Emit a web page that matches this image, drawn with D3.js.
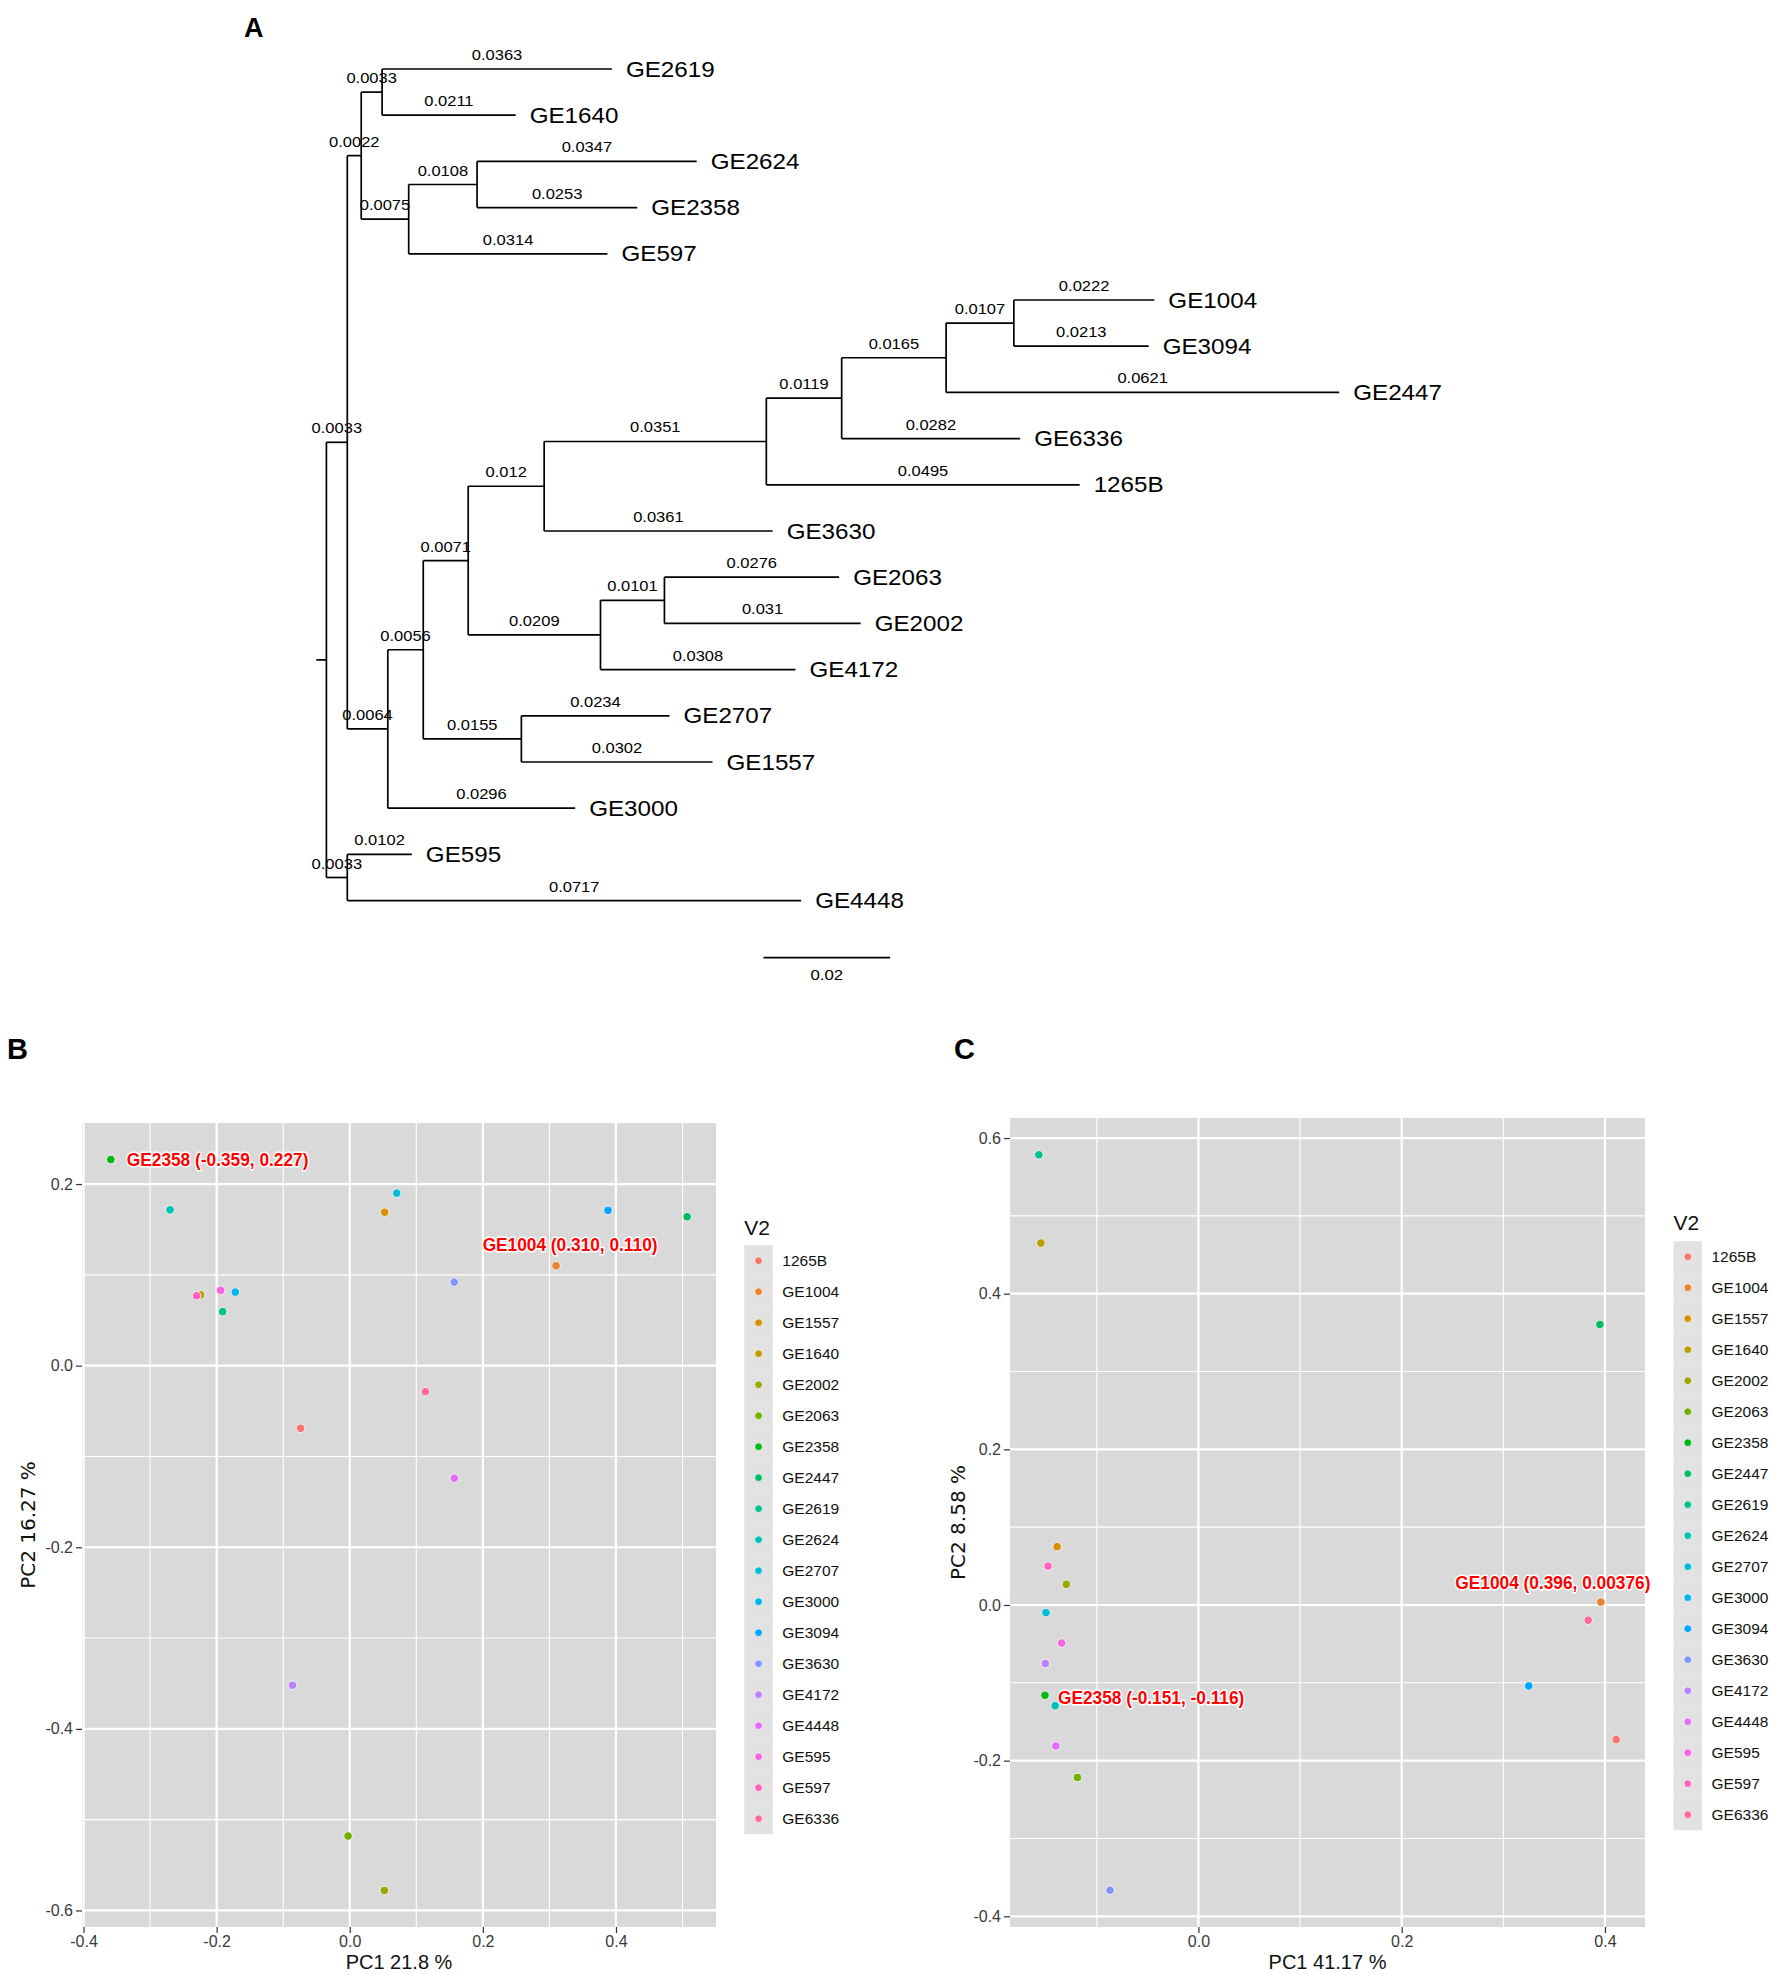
<!DOCTYPE html>
<html lang="en">
<head>
<meta charset="UTF-8">
<title>Phylogeny and PCA</title>
<script src="https://cdn.jsdelivr.net/npm/d3@7"></script>
<style>
  body { margin: 0; background: #fff; }
  svg { display: block; }
</style>
</head>
<body>
<div id="chart"></div>
<script>
// ---- data ----
// tree edges: [parent, child, branch length]; child order = drawing order
const treeEdges = [
  ["root", "n1", 0.0033], ["root", "n20", 0.0033],
  ["n1", "n2", 0.0022], ["n1", "n6", 0.0064],
  ["n2", "n3", 0.0033], ["n2", "n4", 0.0075],
  ["n3", "GE2619", 0.0363], ["n3", "GE1640", 0.0211],
  ["n4", "n5", 0.0108], ["n4", "GE597", 0.0314],
  ["n5", "GE2624", 0.0347], ["n5", "GE2358", 0.0253],
  ["n6", "n7", 0.0056], ["n6", "GE3000", 0.0296],
  ["n7", "n8", 0.0071], ["n7", "n16", 0.0155],
  ["n8", "n9", 0.012], ["n8", "n14", 0.0209],
  ["n9", "n10", 0.0351], ["n9", "GE3630", 0.0361],
  ["n10", "n11", 0.0119], ["n10", "1265B", 0.0495],
  ["n11", "n12", 0.0165], ["n11", "GE6336", 0.0282],
  ["n12", "n13", 0.0107], ["n12", "GE2447", 0.0621],
  ["n13", "GE1004", 0.0222], ["n13", "GE3094", 0.0213],
  ["n14", "n15", 0.0101], ["n14", "GE4172", 0.0308],
  ["n15", "GE2063", 0.0276], ["n15", "GE2002", 0.031],
  ["n16", "GE2707", 0.0234], ["n16", "GE1557", 0.0302],
  ["n20", "GE595", 0.0102], ["n20", "GE4448", 0.0717]
];
const rootEdge = 0.0016;
const scaleBarLength = 0.02;

// legend levels (V2)
const samples = ["1265B", "GE1004", "GE1557", "GE1640", "GE2002", "GE2063", "GE2358",
  "GE2447", "GE2619", "GE2624", "GE2707", "GE3000", "GE3094", "GE3630", "GE4172",
  "GE4448", "GE595", "GE597", "GE6336"];

// PCA panel B: [sample, PC1, PC2]
const pcaB = [
  ["1265B", -0.074, -0.069], ["GE1004", 0.310, 0.110], ["GE1557", 0.0525, 0.169],
  ["GE1640", -0.224, 0.078], ["GE2002", 0.052, -0.578], ["GE2063", -0.0025, -0.518],
  ["GE2358", -0.359, 0.227], ["GE2447", 0.507, 0.164], ["GE2619", -0.191, 0.0595],
  ["GE2624", -0.270, 0.1716], ["GE2707", 0.0706, 0.190], ["GE3000", -0.172, 0.081],
  ["GE3094", 0.388, 0.171], ["GE3630", 0.157, 0.092], ["GE4172", -0.086, -0.352],
  ["GE4448", 0.157, -0.124], ["GE595", -0.194, 0.083], ["GE597", -0.230, 0.077],
  ["GE6336", 0.1136, -0.0286]
];
// PCA panel C
const pcaC = [
  ["1265B", 0.411, -0.173], ["GE1004", 0.396, 0.00376], ["GE1557", -0.139, 0.075],
  ["GE1640", -0.155, 0.465], ["GE2002", -0.130, 0.0265], ["GE2063", -0.119, -0.2216],
  ["GE2358", -0.151, -0.116], ["GE2447", 0.395, 0.3605], ["GE2619", -0.157, 0.5785],
  ["GE2624", -0.141, -0.1295], ["GE2707", -0.150, -0.0098], ["GE3000", -0.1166, -0.1213],
  ["GE3094", 0.325, -0.104], ["GE3630", -0.087, -0.3665], ["GE4172", -0.1506, -0.0752],
  ["GE4448", -0.1403, -0.1812], ["GE595", -0.1346, -0.0489], ["GE597", -0.148, 0.050],
  ["GE6336", 0.3835, -0.0195]
];
const calloutsB = [["GE2358", "GE2358 (-0.359, 0.227)"], ["GE1004", "GE1004 (0.310, 0.110)"]];
const calloutsC = [["GE1004", "GE1004 (0.396, 0.00376)"], ["GE2358", "GE2358 (-0.151, -0.116)"]];

const bTicksX = [-0.4, -0.2, 0, 0.2, 0.4], bMinorX = [-0.3, -0.1, 0.1, 0.3, 0.5];
const bTicksY = [-0.6, -0.4, -0.2, 0, 0.2], bMinorY = [-0.5, -0.3, -0.1, 0.1];
const cTicksX = [0, 0.2, 0.4], cMinorX = [-0.1, 0.1, 0.3];
const cTicksY = [-0.4, -0.2, 0, 0.2, 0.4, 0.6], cMinorY = [-0.3, -0.1, 0.1, 0.3, 0.5];

// ---- colours: ggplot hue palette (polar LUV, c=100, l=65) ----
function hclLuv(h, c, l) {
  const hr = h * Math.PI / 180;
  const U = c * Math.cos(hr), V = c * Math.sin(hr);
  const Xn = 95.047, Yn = 100, Zn = 108.883;
  const Y = Yn * (l > 7.999592 ? Math.pow((l + 16) / 116, 3) : l / 903.3);
  const t = Xn + 15 * Yn + 3 * Zn;
  const u = U / (13 * l) + 4 * Xn / t, v = V / (13 * l) + 9 * Yn / t;
  const X = 9 * Y * u / (4 * v);
  const Z = -X / 3 - 5 * Y + 3 * Y / v;
  const lin = [3.240479 * X - 1.537150 * Y - 0.498535 * Z,
               -0.969256 * X + 1.875992 * Y + 0.041556 * Z,
               0.055648 * X - 0.204043 * Y + 1.057311 * Z].map(d => d / 100);
  const gam = d => d <= 0.0031308 ? 12.92 * d : 1.055 * Math.pow(d, 1 / 2.4) - 0.055;
  const [r, g, b] = lin.map(d => Math.max(0, Math.min(255, Math.round(255 * gam(d)))));
  return d3.rgb(r, g, b).formatHex();
}
const n = samples.length;
const hues = d3.range(n).map(i => 15 + i * (360 - 360 / n) / (n - 1));
const color = d3.scaleOrdinal(samples, hues.map(h => hclLuv(h, 100, 65)));

const W = 1772, H = 1975;
const svg = d3.select("#chart").append("svg")
  .attr("width", W).attr("height", H)
  .style("font-family", "'Liberation Sans', Arial, sans-serif");
svg.append("rect").attr("width", W).attr("height", H).attr("fill", "#fff");

// text with horizontal stretch
function sText(parent, x, y, str, sx, anchor) {
  const g = parent.append("g").attr("transform", `translate(${x},${y}) scale(${sx},1)`);
  return g.append("text").attr("text-anchor", anchor || "start").text(str);
}

// panel letters
svg.append("text").attr("x", 244).attr("y", 37).attr("font-size", 27).attr("font-weight", "bold").text("A");
svg.append("text").attr("x", 7).attr("y", 1059).attr("font-size", 29).attr("font-weight", "bold").text("B");
svg.append("text").attr("x", 954).attr("y", 1059).attr("font-size", 29).attr("font-weight", "bold").text("C");

// ---- panel A: tree ----
const rows = [{ id: "root", parentId: null, len: 0 }]
  .concat(treeEdges.map(e => ({ id: e[1], parentId: e[0], len: e[2] })));
const root = d3.stratify().id(d => d.id).parentId(d => d.parentId)(rows);
root.eachBefore(d => { d.dist = d.parent ? d.parent.dist + d.data.len : 0; });
const leaves = root.leaves();
const tx = d3.scaleLinear().domain([0, 0.1]).range([326.4, 326.4 + 633]);
const ty = d3.scaleLinear().domain([0, leaves.length - 1]).range([69, 900.6]);
leaves.forEach((d, i) => { d.py = ty(i); });
root.eachAfter(d => {
  if (d.children) d.py = (d.children[0].py + d.children[d.children.length - 1].py) / 2;
});

const gTree = svg.append("g").attr("stroke", "#000").attr("stroke-width", 1.7).attr("fill", "none");
root.descendants().forEach(d => {
  if (d.parent) {
    gTree.append("line").attr("x1", tx(d.parent.dist)).attr("x2", tx(d.dist))
      .attr("y1", d.py).attr("y2", d.py);
  }
  if (d.children) {
    gTree.append("line").attr("x1", tx(d.dist)).attr("x2", tx(d.dist))
      .attr("y1", d.children[0].py).attr("y2", d.children[d.children.length - 1].py);
  }
});
gTree.append("line").attr("x1", tx(-rootEdge)).attr("x2", tx(0))
  .attr("y1", root.py).attr("y2", root.py);

const gTreeText = svg.append("g").attr("fill", "#000");
root.descendants().forEach(d => {
  if (!d.parent) return;
  const mx = (tx(d.parent.dist) + tx(d.dist)) / 2;
  sText(gTreeText, mx, d.py - 9, String(d.data.len), 1.18, "middle").attr("font-size", 14);
});
leaves.forEach(d => {
  sText(gTreeText, tx(d.dist) + 14, d.py, d.id, 1.1, "start")
    .attr("font-size", 22).attr("dominant-baseline", "central");
});

// scale bar
const sbX = 763.5, sbY = 957.6;
gTree.append("line").attr("x1", sbX).attr("x2", sbX + tx(scaleBarLength) - tx(0))
  .attr("y1", sbY).attr("y2", sbY);
sText(gTreeText, sbX + (tx(scaleBarLength) - tx(0)) / 2, 980, String(scaleBarLength), 1.2, "middle")
  .attr("font-size", 14);

// ---- PCA panels ----
function expand(ext) {
  const pad = (ext[1] - ext[0]) * 0.05;
  return [ext[0] - pad, ext[1] + pad];
}
const fmt = d => d.toFixed(1);

function drawPCA(data, box, ticks, titles, legend, callouts) {
  const g = svg.append("g");
  const x = d3.scaleLinear().domain(expand(d3.extent(data, d => d[1]))).range([box.left, box.right]);
  const y = d3.scaleLinear().domain(expand(d3.extent(data, d => d[2]))).range([box.bottom, box.top]);

  g.append("rect").attr("x", box.left).attr("y", box.top)
    .attr("width", box.right - box.left).attr("height", box.bottom - box.top)
    .attr("fill", "#D9D9D9");

  const grid = g.append("g").attr("stroke", "#fff");
  ticks.minorX.forEach(v => grid.append("line").attr("x1", x(v)).attr("x2", x(v))
    .attr("y1", box.top).attr("y2", box.bottom).attr("stroke-width", 1.1));
  ticks.minorY.forEach(v => grid.append("line").attr("y1", y(v)).attr("y2", y(v))
    .attr("x1", box.left).attr("x2", box.right).attr("stroke-width", 1.1));
  ticks.x.forEach(v => grid.append("line").attr("x1", x(v)).attr("x2", x(v))
    .attr("y1", box.top).attr("y2", box.bottom).attr("stroke-width", 2.2));
  ticks.y.forEach(v => grid.append("line").attr("y1", y(v)).attr("y2", y(v))
    .attr("x1", box.left).attr("x2", box.right).attr("stroke-width", 2.2));

  const ax = g.append("g").attr("transform", `translate(0,${box.bottom})`)
    .call(d3.axisBottom(x).tickValues(ticks.x).tickFormat(fmt).tickSize(6).tickPadding(3));
  const ay = g.append("g").attr("transform", `translate(${box.left},0)`)
    .call(d3.axisLeft(y).tickValues(ticks.y).tickFormat(fmt).tickSize(6).tickPadding(3));
  [ax, ay].forEach(a => {
    a.select(".domain").remove();
    a.attr("font-size", 16).attr("font-family", "'Liberation Sans', Arial, sans-serif")
      .style("color", "#333");
    a.selectAll("line").attr("stroke-width", 1.2);
    a.selectAll("text").attr("fill", "#3a3a3a");
  });

  g.selectAll("circle.pt").data(data).join("circle").attr("class", "pt")
    .attr("cx", d => x(d[1])).attr("cy", d => y(d[2])).attr("r", 4.3)
    .attr("fill", d => color(d[0])).attr("stroke", "#f4f4f4").attr("stroke-width", 1);

  callouts.forEach(c => {
    const d = data.find(p => p[0] === c[0]);
    const o = c[2];
    sText(g, x(d[1]) + o[0], y(d[2]) + o[1], c[1], 0.91, o[2])
      .attr("font-size", 19).attr("font-weight", "bold").attr("fill", "#FF0000")
      .attr("dominant-baseline", "central")
      .attr("stroke", "#fff").attr("stroke-width", 3).attr("stroke-linejoin", "round")
      .attr("paint-order", "stroke");
  });

  // axis titles
  g.append("text").attr("x", (box.left + box.right) / 2).attr("y", 1962)
    .attr("text-anchor", "middle").attr("dominant-baseline", "central")
    .attr("font-size", 20).attr("fill", "#111").text(titles.x);
  g.append("text").attr("transform", `translate(${titles.yx},${(box.top + box.bottom) / 2}) rotate(-90)`)
    .attr("text-anchor", "middle").attr("dominant-baseline", "central")
    .attr("font-family", "'DejaVu Sans', sans-serif")
    .attr("font-size", 20).attr("fill", "#111").text(titles.y);

  // legend
  const lg = g.append("g");
  lg.append("text").attr("x", legend.left).attr("y", legend.titleY)
    .attr("dominant-baseline", "central").attr("font-size", 21).attr("fill", "#111").text("V2");
  const keyH = 31, keyW = 28.5;
  samples.forEach((s, i) => {
    const cy = legend.top + keyH * i + keyH / 2;
    lg.append("rect").attr("x", legend.left).attr("y", legend.top + keyH * i)
      .attr("width", keyW).attr("height", keyH).attr("fill", "#E2E2E2");
    lg.append("circle").attr("cx", legend.left + keyW / 2).attr("cy", cy).attr("r", 3.9)
      .attr("fill", color(s)).attr("stroke", "#f4f4f4").attr("stroke-width", 0.9);
    lg.append("text").attr("x", legend.left + 38).attr("y", cy)
      .attr("dominant-baseline", "central").attr("font-size", 15.5).attr("fill", "#111").text(s);
  });
}

drawPCA(pcaB, { left: 82, right: 716, top: 1123, bottom: 1927 },
  { x: bTicksX, y: bTicksY, minorX: bMinorX, minorY: bMinorY },
  { x: "PC1 21.8 %", y: "PC2 16.27 %", yx: 27.5 },
  { left: 744.3, titleY: 1227, top: 1245.2 },
  [[calloutsB[0][0], calloutsB[0][1], [16, 0, "start"]],
   [calloutsB[1][0], calloutsB[1][1], [14, -21, "middle"]]]);

drawPCA(pcaC, { left: 1010, right: 1645, top: 1118, bottom: 1927 },
  { x: cTicksX, y: cTicksY, minorX: cMinorX, minorY: cMinorY },
  { x: "PC1 41.17 %", y: "PC2 8.58 %", yx: 958 },
  { left: 1673.5, titleY: 1222, top: 1241.2 },
  [[calloutsC[0][0], calloutsC[0][1], [-48, -19, "middle"]],
   [calloutsC[1][0], calloutsC[1][1], [13, 2, "start"]]]);
</script>
</body>
</html>
